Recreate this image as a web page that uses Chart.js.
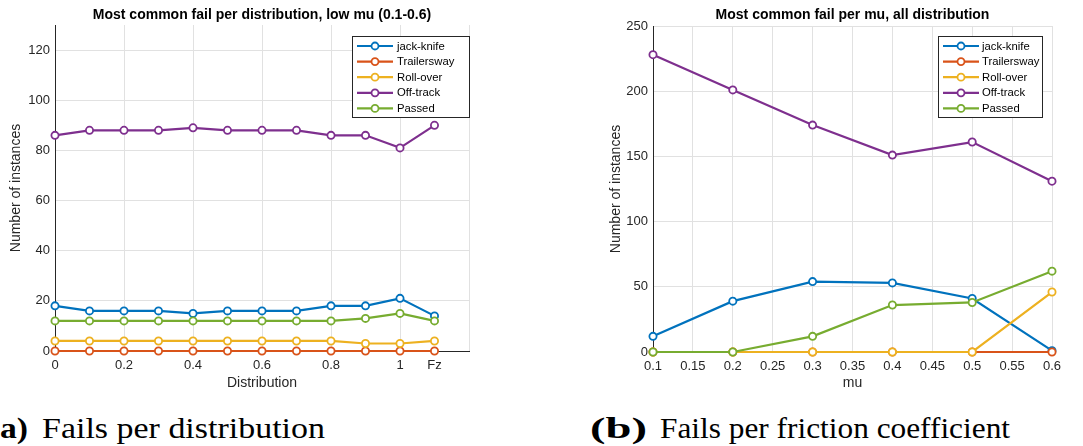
<!DOCTYPE html>
<html><head><meta charset="utf-8">
<script src="https://cdn.jsdelivr.net/npm/chart.js@4.4.1/dist/chart.umd.min.js"></script>
<style>
html,body{margin:0;padding:0;background:#fff;}
body{width:1083px;height:446px;position:relative;overflow:hidden;}
canvas{position:absolute;top:0;}
.cap{position:absolute;top:413.7px;font-family:"Liberation Serif","Times New Roman",serif;font-size:29px;line-height:29px;white-space:nowrap;color:#000;transform-origin:0 0;}
.cap.b{font-weight:bold;}
</style></head><body>
<canvas id="c1" width="490" height="400" style="left:0px"></canvas>
<canvas id="c2" width="483" height="400" style="left:600px"></canvas>
<span class="cap b" style="left:0px" data-w="28">a)</span>
<span class="cap" style="left:42px" data-w="283">Fails per distribution</span>
<span class="cap b" style="left:590px" data-w="57">(b)</span>
<span class="cap" style="left:660px" data-w="350">Fails per friction coefficient</span>
<script>
// ---------- data ----------
const seriesNames = ['jack-knife','Trailersway','Roll-over','Off-track','Passed'];
const seriesColors = ['#0072BD','#D95319','#EDB120','#7E2F8E','#77AC30'];

// (a) per distribution (Fz placed after 1)
const distLabels = ['0','0.1','0.2','0.3','0.4','0.5','0.6','0.7','0.8','0.9','1','Fz'];
const distPositions = [0,0.1,0.2,0.3,0.4,0.5,0.6,0.7,0.8,0.9,1.0,1.1];
const distTickValues = [0,0.2,0.4,0.6,0.8,1.0,1.1,1.2];
const distTickLabels = ['0','0.2','0.4','0.6','0.8','1','Fz',''];
const distYTicks = [0,20,40,60,80,100,120];
const distJackKnife   = [18,16,16,16,15,16,16,16,18,18,21,14];
const distTrailersway = [0,0,0,0,0,0,0,0,0,0,0,0];
const distRollOver    = [4,4,4,4,4,4,4,4,4,3,3,4];
const distOffTrack    = [86,88,88,88,89,88,88,88,86,86,81,90];
const distPassed      = [12,12,12,12,12,12,12,12,12,13,15,12];

// (b) per mu
const muValues = [0.1,0.2,0.3,0.4,0.5,0.6];
const muTickValues = [0.1,0.15,0.2,0.25,0.3,0.35,0.4,0.45,0.5,0.55,0.6];
const muTickLabels = ['0.1','0.15','0.2','0.25','0.3','0.35','0.4','0.45','0.5','0.55','0.6'];
const muYTicks = [0,50,100,150,200,250];
const muJackKnife   = [12,39,54,53,41,1];
const muTrailersway = [0,0,0,0,0,0];
const muRollOver    = [0,0,0,0,0,46];
const muOffTrack    = [228,201,174,151,161,131];
const muPassed      = [0,0,12,36,38,62];

// ---------- styling ----------
const FONT = '"Liberation Sans", Arial, Helvetica, sans-serif';
const AX = '#262626';
const GRID = '#e1e1e1';

const matlabDeco = {
  id: 'matlabDeco',
  afterDraw(chart, args, o) {
    const ctx = chart.ctx, a = chart.chartArea;
    ctx.save();
    ctx.font = 'bold 14px ' + FONT;
    ctx.fillStyle = '#000';
    ctx.textAlign = 'center';
    ctx.textBaseline = 'middle';
    ctx.fillText(o.title, (a.left + a.right) / 2, o.titleY);
    const L = o.legend;
    ctx.fillStyle = '#fff';
    ctx.fillRect(L.x, L.y, L.w, L.h);
    ctx.strokeStyle = AX;
    ctx.lineWidth = 1;
    ctx.strokeRect(L.x + 0.5, L.y + 0.5, L.w, L.h);
    chart.data.datasets.forEach((ds, i) => {
      const cy = L.y + 10 + i * 15.6;
      ctx.strokeStyle = ds.borderColor;
      ctx.lineWidth = 2.2;
      ctx.beginPath(); ctx.moveTo(L.x + 5, cy); ctx.lineTo(L.x + 41, cy); ctx.stroke();
      ctx.beginPath(); ctx.arc(L.x + 23, cy, 3.5, 0, Math.PI * 2);
      ctx.fillStyle = '#fff'; ctx.fill(); ctx.lineWidth = 1.8; ctx.stroke();
      ctx.fillStyle = '#000';
      ctx.font = '11.3px ' + FONT;
      ctx.textAlign = 'left';
      ctx.fillText(ds.label, L.x + L.tx, cy + 0.5);
    });
    ctx.restore();
  }
};

function makeDatasets(xs, arrays) {
  return arrays.map((arr, i) => ({
    label: seriesNames[i],
    data: xs.map((x, j) => ({ x: x, y: arr[j] })),
    borderColor: seriesColors[i],
    backgroundColor: seriesColors[i],
    pointBorderColor: seriesColors[i],
    pointBackgroundColor: '#ffffff',
    borderWidth: 2.2,
    pointRadius: 3.6,
    pointHoverRadius: 3.6,
    pointBorderWidth: 1.8,
    tension: 0,
    clip: false,
    order: arrays.length - 1 - i
  }));
}

function axisBase(title, titlePad) {
  return {
    type: 'linear',
    border: { display: true, color: AX, width: 1 },
    ticks: { color: AX, font: { family: FONT, size: 13 }, padding: 5, autoSkip: false, maxRotation: 0 },
    title: { display: true, text: title, color: AX, font: { family: FONT, size: 14 }, padding: titlePad }
  };
}

function makeChart(id, cfg) {
  const x = axisBase(cfg.xTitle, { top: 0, bottom: 8.6 });
  x.min = cfg.xMin; x.max = cfg.xMax;
  x.ticks.padding = 7;
  x.ticks.callback = (v, i) => cfg.xTickLabels[i];
  x.afterBuildTicks = s => { s.ticks = cfg.xTickValues.map(v => ({ value: v })); };
  x.afterFit = s => { s.height = cfg.xHeight; };
  x.grid = { drawTicks: false, lineWidth: 1,
    color: c => (c.tick && cfg.hiddenGrid.includes(c.tick.value)) ? 'rgba(0,0,0,0)' : GRID };

  const y = axisBase('Number of instances', { top: cfg.yTitlePad, bottom: 0 });
  y.min = cfg.yMin; y.max = cfg.yMax;
  y.afterBuildTicks = s => { s.ticks = cfg.yTickValues.map(v => ({ value: v })); };
  y.ticks.callback = v => String(v);
  y.afterFit = s => { s.width = cfg.yWidth; };
  y.grid = { drawTicks: false, lineWidth: 1, color: GRID };

  return new Chart(document.getElementById(id), {
    type: 'line',
    data: { datasets: makeDatasets(cfg.xs, cfg.series) },
    options: {
      responsive: false,
      animation: false,
      events: [],
      layout: { padding: cfg.padding },
      scales: { x: x, y: y },
      plugins: {
        legend: { display: false },
        tooltip: { enabled: false },
        matlabDeco: { title: cfg.title, titleY: 15, legend: cfg.legend }
      }
    },
    plugins: [matlabDeco]
  });
}

makeChart('c1', {
  xs: distPositions,
  series: [distJackKnife, distTrailersway, distRollOver, distOffTrack, distPassed],
  xMin: 0, xMax: 1.2, xTickValues: distTickValues, xTickLabels: distTickLabels, hiddenGrid: [1.1],
  yMin: 0, yMax: 130, yTickValues: distYTicks,
  xTitle: 'Distribution', yTitlePad: 8,
  xHeight: 49, yWidth: 55,
  padding: { top: 25, right: 21, left: 0, bottom: 0 },
  title: 'Most common fail per distribution, low mu (0.1-0.6)',
  legend: { x: 352, y: 36, w: 117, h: 81, tx: 45 }
});

makeChart('c2', {
  xs: muValues,
  series: [muJackKnife, muTrailersway, muRollOver, muOffTrack, muPassed],
  xMin: 0.1, xMax: 0.6, xTickValues: muTickValues, xTickLabels: muTickLabels, hiddenGrid: [],
  yMin: 0, yMax: 250, yTickValues: muYTicks,
  xTitle: 'mu', yTitlePad: 7.6,
  xHeight: 48, yWidth: 53,
  padding: { top: 26, right: 31, left: 0, bottom: 0 },
  title: 'Most common fail per mu, all distribution',
  legend: { x: 338, y: 36, w: 104, h: 81, tx: 44 }
});

document.querySelectorAll('.cap').forEach(el => {
  const w = el.getBoundingClientRect().width;
  const t = +el.dataset.w;
  if (w > 0) el.style.transform = 'scaleX(' + (t / w) + ')';
});
</script>
</body></html>
